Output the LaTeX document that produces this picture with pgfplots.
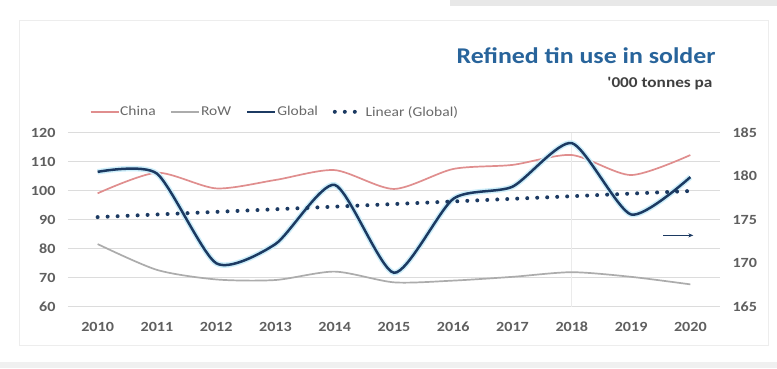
\documentclass[border=0pt]{standalone}
\usepackage{pgfplots}
\pgfplotsset{compat=1.18}
\usepackage{fontspec}
\setmainfont{Carlito}
\usetikzlibrary{arrows.meta}
\definecolor{chinac}{RGB}{224,142,142}
\definecolor{rowc}{RGB}{172,172,172}
\definecolor{globc}{RGB}{28,58,98}
\definecolor{haloc}{RGB}{205,238,250}
\definecolor{titlec}{RGB}{40,100,155}
\definecolor{tickc}{RGB}{95,95,95}
\definecolor{legc}{RGB}{105,105,105}
\definecolor{gridc}{RGB}{220,220,220}
\newcommand\st[1]{\scalebox{1.15}[1]{#1}}
\begin{document}
\begin{tikzpicture}
\useasboundingbox (0,0) rectangle (777pt,368pt);
\fill[white] (0,0) rectangle (777pt,368pt);
\fill[black!9] (450pt,362pt) rectangle (777pt,368pt);
\fill[black!6] (0,0) rectangle (777pt,6pt);
\draw[black!7, line width=1pt] (19pt,23pt) rectangle (768pt,348pt);
\node[anchor=east, text=titlec, font=\fontsize{22.5}{26}\selectfont\bfseries] at (719pt,312pt) {\st{Refined tin use in solder}};
\node[anchor=east, text=black!75, font=\fontsize{15}{18}\selectfont\bfseries] at (716pt,284pt) {\st{\textquotesingle000 tonnes pa}};
\begin{axis}[
  at={(68pt,61.3pt)}, anchor=south west, scale only axis,
  width=652pt, height=174pt,
  xmin=2009.5, xmax=2020.5, ymin=60, ymax=120,
  axis x line*=bottom, axis y line*=left,
  axis line style={draw=none},
  tick style={draw=none},
  xtick={2010,2011,2012,2013,2014,2015,2016,2017,2018,2019,2020},
  xticklabels={\st{2010},\st{2011},\st{2012},\st{2013},\st{2014},\st{2015},\st{2016},\st{2017},\st{2018},\st{2019},\st{2020}},
  ytick={60,70,80,90,100,110,120},
  yticklabels={\st{60},\st{70},\st{80},\st{90},\st{100},\st{110},\st{120}},
  ymajorgrids, grid style={gridc, line width=0.9pt},
  ticklabel style={text=tickc, font=\fontsize{14}{16}\selectfont\bfseries},
  yticklabel style={xshift=-9pt},
  xticklabel style={yshift=-12pt},
  clip=false,
]
\draw[black!8, line width=0.8pt] (axis cs:2018,60) -- (axis cs:2018,120);
\addplot[chinac, line width=1.7pt, smooth, tension=0.45] coordinates {
(2010,99.1) (2011,106.2) (2012,100.8) (2013,103.7) (2014,107.1) (2015,100.6)
(2016,107.5) (2017,108.9) (2018,112.3) (2019,105.4) (2020,112.3)};
\addplot[rowc, line width=1.7pt, smooth, tension=0.45] coordinates {
(2010,81.6) (2011,72.7) (2012,69.4) (2013,69.2) (2014,72.1) (2015,68.4)
(2016,69.0) (2017,70.3) (2018,71.9) (2019,70.3) (2020,67.7)};
\end{axis}
\begin{axis}[
  at={(68pt,61.3pt)}, anchor=south west, scale only axis,
  width=652pt, height=174pt,
  xmin=2009.5, xmax=2020.5, ymin=165, ymax=185,
  axis x line=none, axis y line*=right,
  axis line style={draw=none},
  tick style={draw=none},
  ytick={165,170,175,180,185},
  yticklabels={\st{165},\st{170},\st{175},\st{180},\st{185}},
  ticklabel style={text=tickc, font=\fontsize{14}{16}\selectfont\bfseries},
  yticklabel style={xshift=9pt},
  clip=false,
  legend columns=4,
  legend style={at={(axis description cs:0.033,1.12)}, anchor=west, draw=none, fill=none,
    font=\fontsize{13.5}{14}\selectfont, text=legc, inner sep=0pt,
    nodes={inner xsep=0.8pt},
    /tikz/every even column/.append style={column sep=14pt}},
  legend cell align=left,
  legend image code/.code={\draw[#1] (0pt,0pt) -- (28pt,0pt);},
]
\addlegendimage{chinac, line width=1.7pt}
\addlegendentry{\st{China}}
\addlegendimage{rowc, line width=1.7pt}
\addlegendentry{\st{RoW}}
\addplot[haloc, line width=5.5pt, smooth, tension=0.4, forget plot] coordinates {
(2010,180.5) (2011,180.3) (2012,170.0) (2013,172.2) (2014,179.0) (2015,168.9)
(2016,177.4) (2017,178.8) (2018,183.8) (2019,175.6) (2020,179.9)};
\addplot[globc, line width=2.5pt, smooth, tension=0.4] coordinates {
(2010,180.5) (2011,180.3) (2012,170.0) (2013,172.2) (2014,179.0) (2015,168.9)
(2016,177.4) (2017,178.8) (2018,183.8) (2019,175.6) (2020,179.9)};
\addlegendentry{\st{Global}}
\addplot[globc, line width=4pt, line cap=round, dash pattern=on 0pt off 10pt] coordinates {
(2010,175.3) (2020,178.3)};
\addlegendentry{\st{Linear (Global)}}
\draw[globc, line width=1.2pt, -{Stealth[length=5pt,width=4pt]}] (axis cs:2019.54,173.2) -- (axis cs:2020.05,173.2);
\end{axis}
\end{tikzpicture}
\end{document}
